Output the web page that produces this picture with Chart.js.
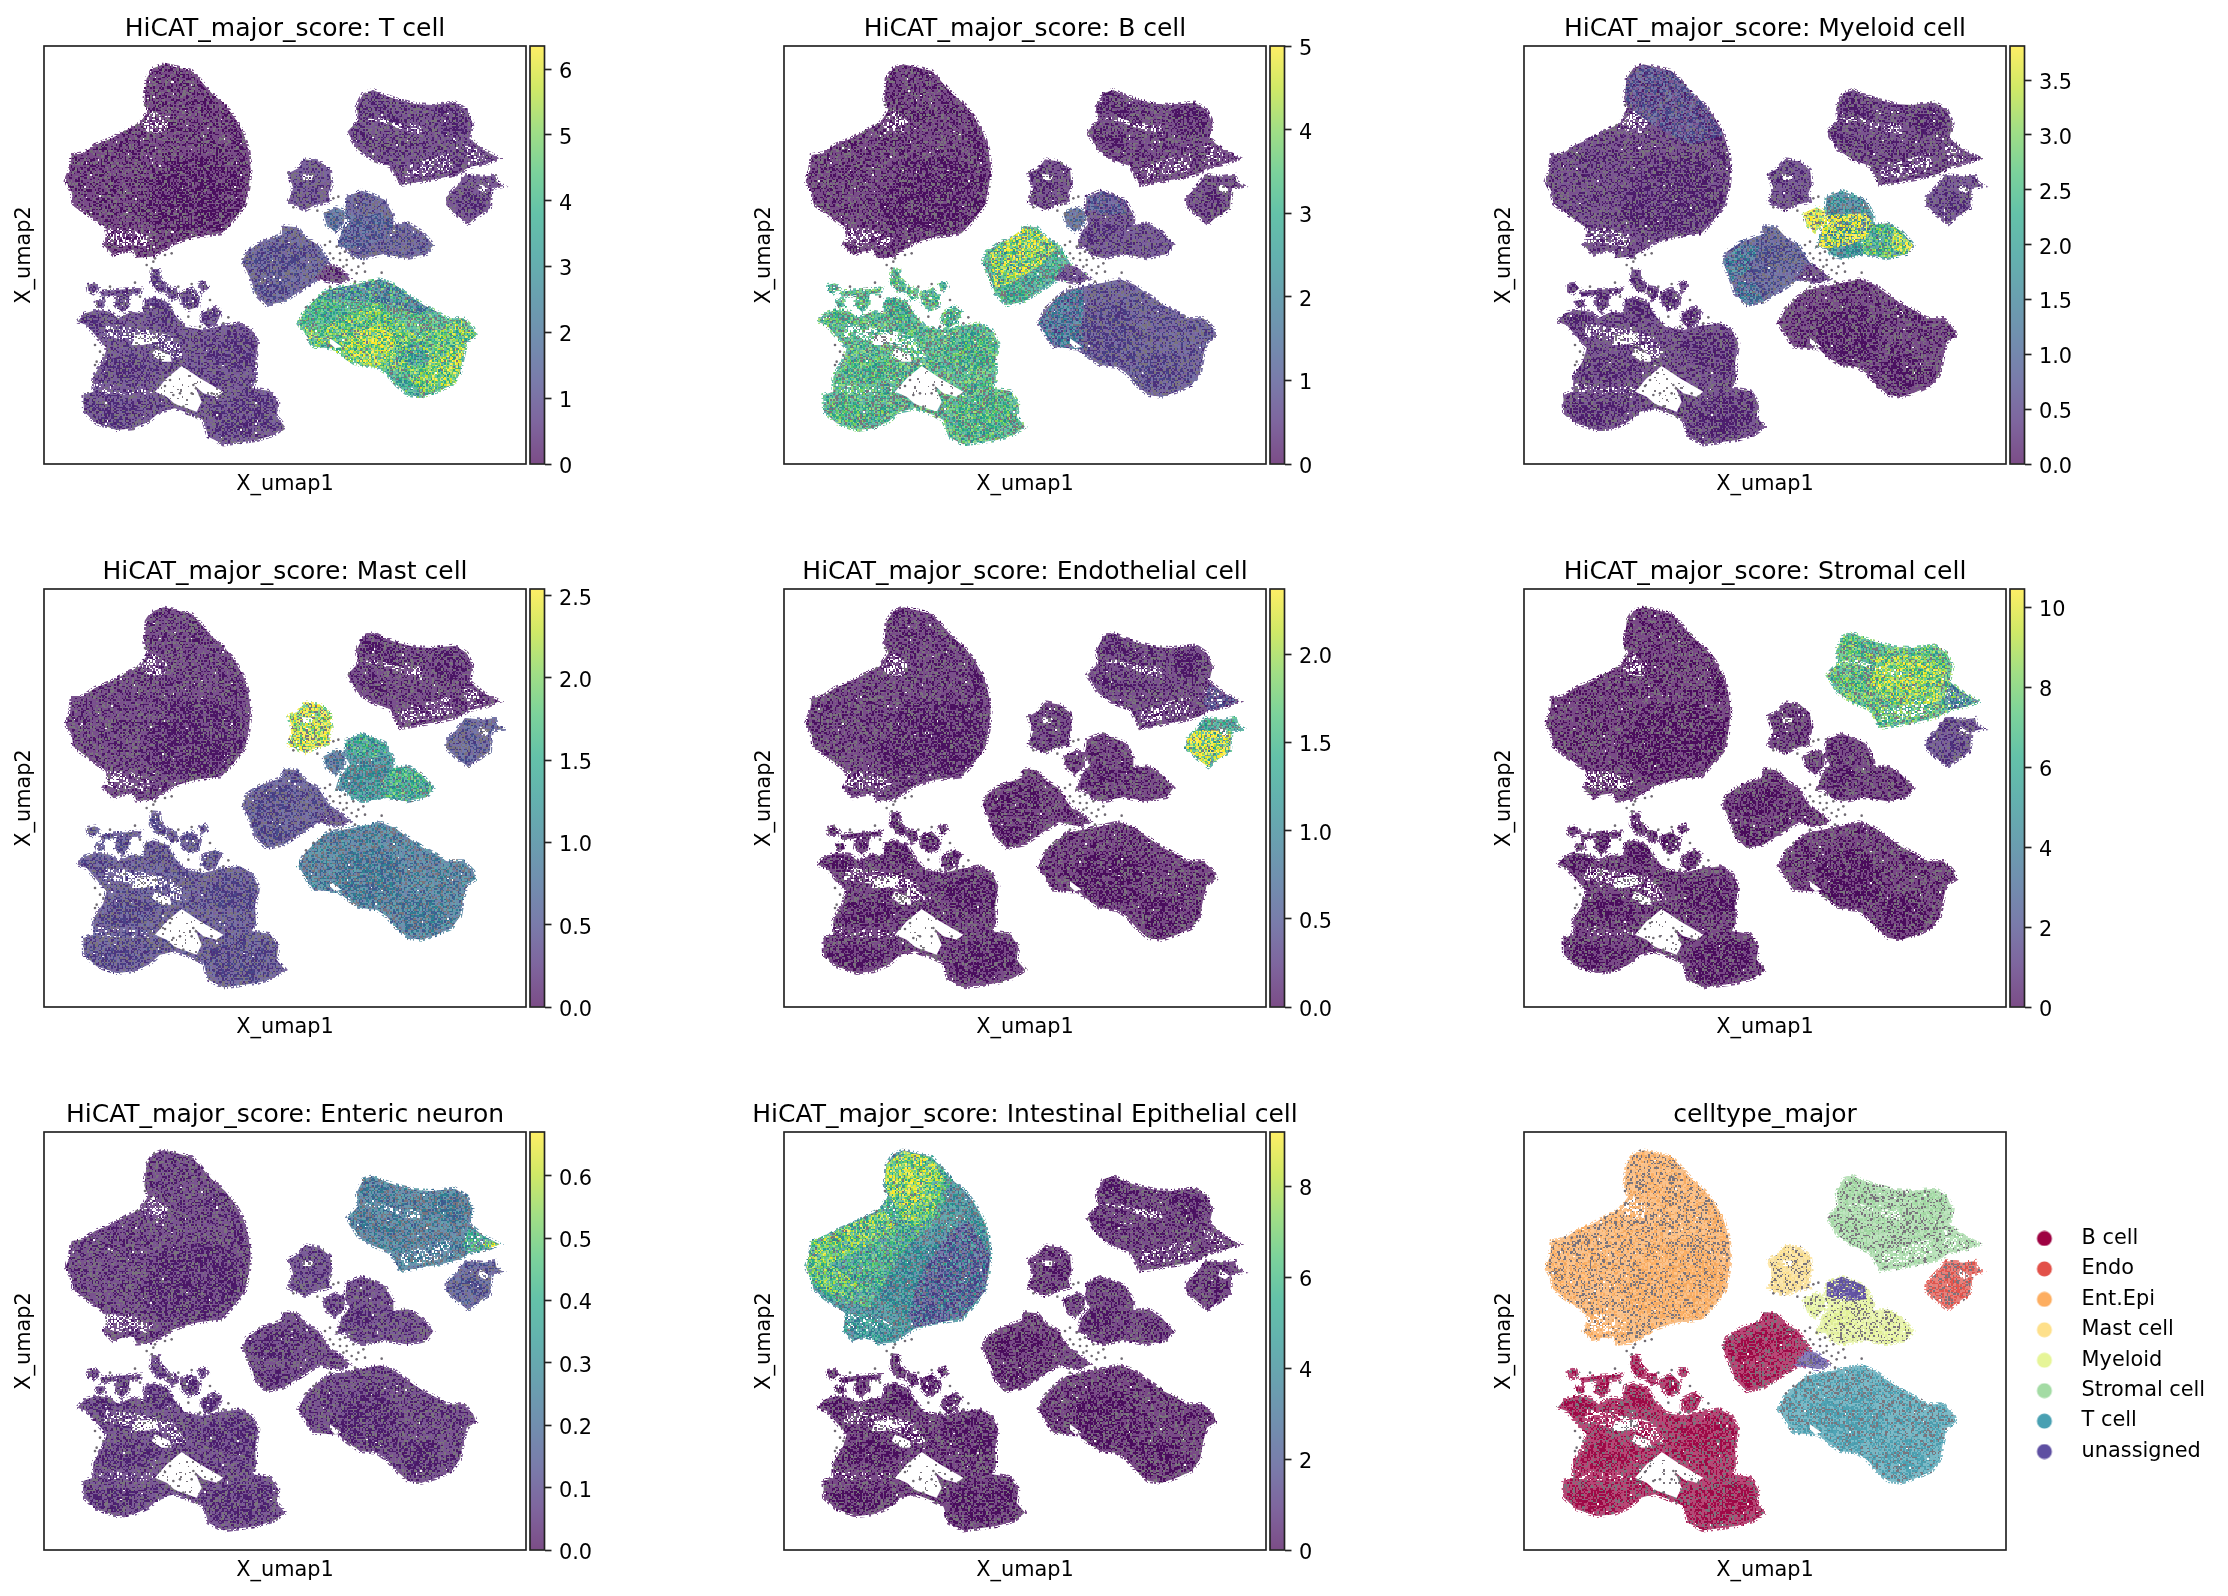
<!DOCTYPE html>
<html><head><meta charset="utf-8">
<script src="https://cdn.jsdelivr.net/npm/chart.js@4"></script>
<style>html,body{margin:0;background:#fff}#page{position:relative;width:2228px;height:1596px;overflow:hidden}canvas{position:absolute}</style>
</head><body><div id="page"></div>
<script>
/* layout of the figure */
const lefts=[44,784,1524],tops=[46,589,1132],PW=482,PH=418;
const XMIN=115,XMAX=1372,YMIN=138,YMAX=1390;
/* turns readings taken on a magnified crop of the first panel into embedding units */
const read=(X0,Y0,pts)=>pts.map(([a,b])=>[XMIN+(X0-44+a/3)*(XMAX-XMIN)/PW,YMIN+(Y0-46+b/3)*(YMAX-YMIN)/PH]);

/* ---------- cluster outlines ---------- */
const epi=read(55,55,[[325,28],[370,38],[410,48],[435,75],[470,115],[510,150],[540,190],[565,235],[580,285],[587,340],[582,390],[570,450],[540,490],[500,535],[420,545],[355,565],[335,580],[290,605],[245,608],[235,585],[200,590],[175,600],[145,570],[160,545],[150,515],[100,480],[55,445],[50,410],[32,378],[45,345],[50,300],[85,295],[120,270],[170,250],[215,225],[255,205],[280,165],[268,135],[275,70],[295,40]]);
const stromal=read(340,80,[[100,30],[130,45],[175,60],[225,72],[275,75],[345,68],[380,90],[398,130],[388,175],[430,210],[478,235],[440,250],[385,262],[360,280],[300,295],[240,305],[180,315],[165,285],[150,258],[100,240],[55,210],[22,155],[55,120],[50,80],[70,40]]);
const endo=read(340,80,[[375,285],[430,290],[465,285],[470,305],[490,318],[455,325],[452,355],[450,385],[405,415],[385,432],[350,405],[318,375],[320,350],[350,320],[365,300]]);
const mast=read(230,150,[[225,28],[270,35],[300,60],[305,105],[295,130],[300,155],[255,165],[225,180],[175,155],[190,115],[175,70],[205,55]]);
const myeloid=read(230,150,[[395,122],[430,135],[465,150],[490,195],[490,225],[535,220],[575,245],[610,285],[590,312],[530,325],[460,312],[400,325],[365,315],[345,290],[322,290],[335,245],[360,215],[345,190],[350,140]]);
const myeLobe=read(230,150,[[280,190],[320,172],[345,185],[342,220],[315,245],[290,225]]);
const bMid=read(230,150,[[160,228],[200,232],[230,265],[265,285],[290,325],[320,365],[345,375],[305,395],[270,385],[215,420],[160,455],[110,465],[75,430],[65,395],[38,335],[50,305],[95,275],[155,255]]);
const bridge=read(230,150,[[290,345],[320,350],[360,385],[330,400],[300,395],[260,385]]);
const tCell=read(280,270,[[300,28],[345,45],[385,75],[430,105],[470,125],[500,145],[550,145],[580,175],[588,198],[560,215],[548,265],[540,310],[515,345],[470,365],[425,380],[385,375],[350,345],[320,310],[290,290],[240,285],[190,250],[175,235],[150,235],[100,230],[75,190],[55,160],[75,120],[110,85],[140,60],[190,50],[250,38]]);
const bLow=read(60,280,[[52,125],[75,100],[110,90],[150,95],[175,115],[215,95],[250,100],[255,60],[280,52],[320,65],[345,105],[375,140],[430,150],[480,138],[540,130],[575,150],[595,190],[585,250],[588,300],[575,325],[630,333],[655,370],[650,410],[675,440],[640,465],[590,480],[550,485],[490,493],[445,470],[430,420],[400,405],[345,385],[300,395],[265,425],[220,445],[170,450],[110,430],[72,395],[70,345],[100,335],[100,290],[130,240],[140,205],[110,170],[80,135]]);
const isletA=read(60,280,[[275,-32],[298,-30],[300,-5],[320,15],[315,38],[290,32],[272,5]]);
const isletB=read(60,280,[[415,10],[435,5],[443,20],[425,35]]);
const isletC=read(60,280,[[170,40],[210,35],[205,75],[185,95],[165,75]]);
const isletD=read(60,280,[[82,15],[105,10],[118,25],[100,40],[85,32]]);
const isletE=read(60,280,[[360,40],[395,25],[420,50],[415,80],[385,90],[365,70]]);
const isletF=read(60,280,[[425,100],[465,80],[485,95],[470,130],[445,145],[425,125]]);
const isletG=read(60,280,[[120,35],[170,30],[245,25],[240,40],[170,45],[125,50]]);
const isletH=read(60,280,[[320,20],[350,25],[355,50],[335,60],[320,40]]);
const isletJ=read(60,280,[[105,62],[130,60],[135,78],[115,85]]);
/* white gaps and thinly populated zones */
const gapTriangle=read(60,280,[[365,258],[420,295],[490,335],[470,350],[430,340],[405,318],[425,365],[410,395],[345,372],[320,350],[285,335],[320,295]]);
const gapSmall=read(60,280,[[285,205],[330,225],[335,245],[305,245],[275,225]]);
const gapUpper=read(60,280,[[225,165],[290,160],[295,185],[250,195],[215,195]]);
const gapEndo=read(340,80,[[420,310],[450,330],[435,340],[415,330]]);
const gapMast=read(230,150,[[215,72],[250,75],[245,90],[220,90]]);
const gapT=read(280,270,[[150,205],[185,230],[165,235],[150,220]]);
const thinEpiNotch=read(55,55,[[260,205],[295,165],[340,200],[325,235],[275,230]]);
const thinEpiFoot=read(55,55,[[155,520],[220,520],[295,550],[275,575],[235,570],[190,575],[150,560]]);
const thinLowTop=read(60,280,[[140,130],[200,140],[270,150],[340,170],[380,230],[340,235],[300,200],[200,180],[130,170]]);
const thinLowBand=read(60,280,[[100,310],[200,320],[280,320],[300,340],[230,345],[110,340]]);
const thinStromalRidge=read(340,80,[[55,115],[120,125],[200,155],[250,165],[240,130],[170,130],[110,110]]);
const thinStromalFoot=read(340,80,[[180,265],[270,235],[330,220],[340,270],[250,290],[185,300]]);
const thinStromalTail=read(340,80,[[370,190],[420,210],[440,240],[385,255]]);
/* densely over-plotted cores */
const coreEpi=read(55,55,[[330,320],[480,300],[570,370],[560,470],[480,530],[330,530],[250,450]]);
const coreEpiStreak=read(55,55,[[250,430],[300,440],[345,500],[310,530],[265,480]]);
const coreEpiStreakB=read(55,55,[[310,355],[350,380],[340,425],[318,420]]);
const coreEpiEdge=read(55,55,[[520,190],[560,240],[575,340],[540,300]]);
const coreStrA=read(340,80,[[75,40],[110,35],[130,70],[190,130],[170,140],[110,100],[60,90]]);
const coreStrB=read(340,80,[[30,155],[90,165],[160,190],[150,210],[90,200],[35,175]]);
const coreStrC=read(340,80,[[270,90],[340,75],[385,120],[350,170],[290,160]]);
const coreEndo=read(340,80,[[370,340],[400,330],[440,380],[410,400]]);
const coreT1=read(280,270,[[170,140],[300,100],[370,180],[350,270],[250,280],[170,230]]);
const coreT2=read(280,270,[[360,260],[460,250],[500,320],[450,360],[380,350]]);
const coreLowA=read(60,280,[[420,190],[520,150],[585,180],[585,260],[520,270],[440,240]]);
const coreLowB=read(60,280,[[140,240],[220,220],[300,260],[250,300],[170,310],[120,285]]);
const coreLowC=read(60,280,[[90,370],[180,365],[270,385],[220,430],[140,440],[85,400]]);
const coreLowD=read(60,280,[[450,380],[540,345],[640,360],[640,420],[560,470],[470,470]]);
const coreLowE=read(60,280,[[255,65],[290,55],[330,75],[340,105],[310,130],[270,110]]);
const coreLowF=read(60,280,[[60,115],[130,95],[165,120],[130,155],[80,130]]);
const coreMidA=read(230,150,[[70,320],[160,280],[240,300],[170,370],[90,370]]);
const coreMidB=read(230,150,[[80,400],[150,400],[180,430],[110,460]]);
const coreMye=read(230,150,[[340,240],[400,210],[440,240],[400,280],[350,285]]);
/* score zones */
const myeTop=read(230,150,[[350,140],[395,122],[430,135],[465,150],[470,190],[400,195],[350,180]]);
const myeCentre=read(230,150,[[350,195],[470,190],[490,225],[470,265],[400,290],[360,295],[325,290],[335,245]]);
const myeRight=read(230,150,[[490,225],[535,220],[575,245],[610,285],[590,312],[530,325],[460,312],[450,270]]);
const myeLower=read(230,150,[[350,295],[450,270],[470,315],[400,325],[365,318]]);
const myeTip=read(230,150,[[550,235],[610,285],[590,312],[545,295]]);
const midLeft=read(230,150,[[38,335],[95,278],[150,290],[120,360],[65,395]]);
const midFoot=read(230,150,[[75,430],[110,465],[160,455],[140,400],[85,395]]);
const bMidHot=read(230,150,[[60,310],[160,235],[205,240],[260,290],[220,340],[140,390],[75,420]]);
const tWarmCentre=read(280,270,[[130,170],[290,100],[400,180],[400,280],[340,300],[220,285],[150,235]]);
const tWarmLower=read(280,270,[[380,190],[560,170],[560,220],[530,340],[430,370],[360,300]]);
const tHotCentre=read(280,270,[[210,195],[290,165],[340,195],[345,260],[300,285],[240,280],[190,250]]);
const tHotTip=read(280,270,[[55,160],[75,165],[115,195],[140,215],[100,230],[75,190]]);
const tHotLower=read(280,270,[[450,270],[520,240],[560,215],[545,265],[540,310],[515,345],[460,360],[420,330]]);
const tHotRight=read(280,270,[[490,160],[550,150],[588,198],[555,220],[510,210]]);
const tCool=read(280,270,[[370,230],[430,215],[450,270],[410,290],[360,270]]);
const tUpper=read(280,270,[[140,60],[250,38],[300,28],[345,45],[385,75],[430,105],[470,125],[400,130],[310,100],[200,90],[110,85]]);
const tLeft=read(280,270,[[75,120],[110,85],[200,90],[150,165],[90,160]]);
const tFoot=read(280,270,[[320,310],[385,375],[425,380],[400,330]]);
const tLeftLobe=read(280,270,[[55,160],[110,85],[160,60],[190,50],[190,240],[150,235],[100,230]]);
const strTail=read(340,80,[[390,180],[430,210],[478,235],[440,250],[385,262],[370,240]]);
const strTip=read(340,80,[[435,222],[478,235],[445,248],[425,240]]);
const strCentre=read(340,80,[[170,100],[300,95],[380,140],[350,240],[220,250],[150,190]]);
const endoLow=read(340,80,[[350,320],[452,325],[450,385],[405,415],[385,432],[350,405],[318,375],[320,350]]);
const epiRight=read(55,55,[[520,240],[585,340],[570,450],[500,530],[360,560],[340,520],[370,420],[420,330],[470,270]]);
const epiUpperLeft=read(55,55,[[325,30],[410,50],[470,115],[430,240],[340,310],[280,400],[230,500],[100,478],[35,378],[50,300],[215,225],[255,205],[280,165],[270,135],[275,70]]);
const epiBand=read(55,55,[[215,228],[265,210],[300,250],[240,310],[150,345],[60,400],[35,378],[50,300],[120,272]]);
const epiLeft=read(55,55,[[35,385],[90,360],[190,430],[140,470],[60,440]]);
const epiCrown=read(55,55,[[275,70],[325,30],[410,50],[450,120],[400,260],[330,250],[285,165],[270,130]]);
const epiTop=read(55,55,[[275,70],[325,30],[400,48],[430,90],[385,170],[350,210],[285,165],[270,130]]);
const epiFoot=read(55,55,[[150,520],[220,520],[300,560],[290,600],[245,605],[200,588],[175,598],[145,570]]);
const epiDome=read(55,55,[[275,70],[325,30],[410,50],[510,150],[565,240],[470,270],[370,220],[290,165],[270,130]]);
/* lone cells between the clusters */
const strayLow=read(60,280,[[105,195],[120,215],[130,225],[110,245],[105,255],[355,20],[395,12],[450,60],[505,112],[490,130],[300,315],[315,318],[340,345],[395,340],[420,345],[370,380],[345,375],[385,395],[410,410],[420,400],[270,330],[300,300],[330,285],[352,255],[510,340],[475,350],[400,315],[408,325],[150,20],[225,8],[240,50],[385,110],[420,140],[330,300],[360,340],[440,355],[455,340],[300,350],[320,365]]);
const strayEpi=read(55,55,[[300,610],[275,630],[350,595],[330,600],[295,620],[270,150],[245,210],[210,230],[110,290],[290,640],[130,300]]);
const strayCentre=read(230,150,[[285,285],[300,275],[320,290],[330,310],[345,305],[300,310],[310,325],[330,330],[350,330],[370,325],[400,340],[380,370],[405,365],[455,368],[325,140],[310,145],[262,182],[190,172],[350,345],[365,360],[385,350],[340,350],[228,472],[250,450],[375,395],[300,410],[280,432],[360,300]]);

/* ---------- categories, titles, ticks, scores ---------- */
const clusterNames=['epi','stromal','endo','mast','myeloid','myeLobe','bMid','bridge','tCell','bLow'];
const panelTitles=['HiCAT_major_score: T cell','HiCAT_major_score: B cell','HiCAT_major_score: Myeloid cell','HiCAT_major_score: Mast cell','HiCAT_major_score: Endothelial cell','HiCAT_major_score: Stromal cell','HiCAT_major_score: Enteric neuron','HiCAT_major_score: Intestinal Epithelial cell','celltype_major'];
const colorbarMax=[6.35,5.0,3.81,2.54,2.37,10.46,0.67,9.2];
const ticks0=[0,1,2,3,4,5,6];const ticks1=[0,1,2,3,4,5];const ticks2=[0,0.5,1,1.5,2,2.5,3,3.5];const ticks3=[0,0.5,1,1.5,2,2.5];
const ticks4=[0,0.5,1,1.5,2];const ticks5=[0,2,4,6,8,10];const ticks6=[0,0.1,0.2,0.3,0.4,0.5,0.6];const ticks7=[0,2,4,6,8];
const colorbarTicks=[ticks0,ticks1,ticks2,ticks3,ticks4,ticks5,ticks6,ticks7];
const tickDecimals=[0,0,1,1,1,0,1,0];
/* scores per cluster, in clusterNames order */
const scoresT=[0.12,0.42,0.5,0.7,1.15,1.7,1.15,0.3,4.3,0.65];
const scoresB=[0.1,0.18,0.28,0.3,0.5,1.3,3.1,0.5,0.8,3.4];
const scoresMye=[0.22,0.2,0.35,0.32,1.7,3.8,0.8,0.3,0.1,0.25];
const scoresMast=[0.1,0.1,0.5,2.5,1.15,0.85,0.45,0.35,0.95,0.42];
const scoresEndo=[0.06,0.1,1.4,0.08,0.05,0.05,0.03,0.03,0.03,0.04];
const scoresStr=[0.1,7.6,1.2,0.25,0.2,0.2,0.1,0.1,0.08,0.12];
const scoresNeu=[0.035,0.25,0.14,0.06,0.05,0.05,0.04,0.04,0.04,0.05];
const scoresEpi=[4.2,0.25,0.25,0.2,0.25,0.25,0.1,0.2,0.1,0.15];
const panelScores=[scoresT,scoresB,scoresMye,scoresMast,scoresEndo,scoresStr,scoresNeu,scoresEpi];
/* score zones drawn above the clusters, per panel */
const zonesT=[[tUpper,2.4],[tLeft,4.2],[tFoot,3.6],[tWarmCentre,5.1],[tWarmLower,5.0],[tCool,3.2],[tHotRight,5.2],[tHotLower,5.6],[tHotTip,5.6],[tHotCentre,6.0],[myeCentre,1.6]];
const zonesB=[[bMidHot,4.8],[tLeftLobe,1.9],[myeTop,1.1]];
const zonesMye=[[epiDome,0.75],[midLeft,1.5],[midFoot,1.4],[myeLower,1.9],[myeRight,2.8],[myeCentre,4.2],[myeTip,4.2]];
const zonesMast=[[myeTop,1.6],[myeRight,1.7],[myeLower,1.3]];
const zonesEndo=[[endoLow,2.7],[strTail,0.45]];
const zonesStr=[[strCentre,9.4],[strTail,3.6]];
const zonesNeu=[[strTail,0.42],[strTip,0.66]];
const zonesEpi=[[epiRight,1.8],[epiUpperLeft,6.2],[epiBand,7.6],[epiLeft,7.2],[epiCrown,7.6],[epiTop,8.5],[epiFoot,4.6]];
const panelZones=[zonesT,zonesB,zonesMye,zonesMast,zonesEndo,zonesStr,zonesNeu,zonesEpi];
/* cell-type panel */
const cellTypes=['B cell','Endo','Ent.Epi','Mast cell','Myeloid','Stromal cell','T cell','unassigned'];
const cellColors=['#9e0142','#e25149','#fdae61','#fee08b','#e6f598','#a3dba4','#49a0b2','#5e4fa2'];
const clusterCell=[2,5,1,3,4,4,0,7,6,0];
const viridisStops=[[68,1,84],[72,36,117],[65,68,135],[53,95,141],[42,120,142],[33,145,140],[34,168,132],[68,191,112],[122,209,81],[189,223,38],[253,231,37]];

const outlines={epi,stromal,endo,mast,myeloid,myeLobe,bMid,bridge,tCell,bLow};
const islets=[isletA,isletB,isletC,isletD,isletE,isletF,isletG,isletH,isletJ];
const coresOf={epi:[coreEpi,coreEpiStreak,coreEpiStreakB,coreEpiEdge],stromal:[coreStrA,coreStrB,coreStrC],endo:[coreEndo],myeloid:[coreMye],bMid:[coreMidA,coreMidB],tCell:[coreT1,coreT2],bLow:[coreLowA,coreLowB,coreLowC,coreLowD,coreLowE,coreLowF]};
const thinZones=[[thinEpiNotch,'epi',0.4],[thinEpiFoot,'epi',0.4],[thinLowTop,'bLow',0.4],[thinLowBand,'bLow',0.14],[thinStromalRidge,'stromal',0.4],[thinStromalFoot,'stromal',0.3],[thinStromalTail,'stromal',0.3]];
const gaps=[[gapTriangle,'bLow',0.96],[gapSmall,'bLow',0.75],[gapUpper,'bLow',0.7],[gapEndo,'endo',0.6],[gapMast,'mast',0.6],[gapT,'tCell',0.9]];
const strayCells=strayLow.concat(strayEpi,strayCentre);
const FONT='"DejaVu Sans"';

function viridis(t){t=Math.max(0,Math.min(1,t))*10;const i=Math.min(9,Math.floor(t)),f=t-i,a=viridisStops[i],b=viridisStops[i+1];return [0,1,2].map(k=>a[k]+(b[k]-a[k])*f);}
function grain(x,y,k){let h=(x*73856093)^(y*19349663)^(k*83492791);h=Math.imul(h^(h>>>13),1274126177);h=Math.imul(h^(h>>>16),2246822519);return ((h^(h>>>15))>>>0)/4294967296;}
const tileCache={};let tileSeed=10;
/* speckled fill standing in for the over-plotted single-cell dots */
function speckle(colorFn,dens,white,clear){
  const key=colorFn.key+'|'+dens+'|'+white+'|'+clear;if(tileCache[key])return tileCache[key];
  const seed=tileSeed+=4,S=150,c=document.createElement('canvas');c.width=c.height=S;const g=c.getContext('2d'),im=g.createImageData(S,S);
  const grey=clear>0?0.04:0.08+0.2*(1-dens);
  for(let y=0;y<S;y++)for(let x=0;x<S;x++){
    const cx=Math.floor(x/1.5),cy=Math.floor(y/1.5),r=grain(cx,cy,seed),r2=grain(cx,cy,seed+1),r3=grain(cx,cy,seed+2),r4=grain(cx,cy,seed+3);
    const o=(y*S+x)*4;let p;
    if(r4<clear){im.data[o+3]=0;continue;}
    if(r<white)p=[255,255,255];
    else if(r<white+grey)p=[122,116,124];
    else{const alpha=r3<dens?0.97:0.72;p=colorFn(r2).map(v=>v*alpha+255*(1-alpha));}
    im.data[o]=p[0];im.data[o+1]=p[1];im.data[o+2]=p[2];im.data[o+3]=255;}
  g.putImageData(im,0,0);return tileCache[key]=g.createPattern(c,'repeat');
}
function scoreFill(v,vmax,dens,white,clear){const fn=r=>viridis(v/vmax*(0.62+r*0.6));fn.key='s'+(v/vmax).toFixed(3);return speckle(fn,dens,white,clear);}
function catFill(i,dens,white,clear){const col=cellColors[i],rgb=[1,3,5].map(k=>parseInt(col.substr(k,2),16));const fn=r=>rgb.map(v=>v*(0.94+r*0.08));fn.key='c'+i;return speckle(fn,dens,white,clear);}
function layer(poly,fill,edge){const pts=poly.concat([poly[0]]).map(([x,y])=>({x,y}));return {label:'',data:pts,showLine:true,fill:'shape',backgroundColor:fill,tension:0,pointRadius:0,borderColor:edge||'rgba(0,0,0,0)',borderWidth:edge?4:0};}
function panelLayers(p){
  const out=[];const isCat=p===8;
  const fillFor=(ci,dens,white,clear)=>isCat?catFill(clusterCell[ci],dens,white,clear):scoreFill(panelScores[p][ci],colorbarMax[p],dens,white,clear);
  clusterNames.forEach((n,ci)=>{out.push(layer(outlines[n],fillFor(ci,0.35,0.004,0),fillFor(ci,0.1,0,0.6)));
    (coresOf[n]||[]).forEach(c=>out.push(layer(c,fillFor(ci,1,0,0.68))));});
  thinZones.forEach(([poly,n,w])=>out.push(layer(poly,fillFor(clusterNames.indexOf(n),0.3,w,0.25))));
  islets.forEach(s=>out.push(layer(s,fillFor(9,0.55,0.03,0),fillFor(9,0.1,0,0.6))));
  if(isCat){out.push(layer(myeTop,catFill(7,0.7,0,0.15)));}
  else panelZones[p].forEach(([poly,v])=>out.push(layer(poly,scoreFill(v,colorbarMax[p],0.55,0,0.35))));
  gaps.forEach(([g,n,w])=>out.push(layer(g,fillFor(clusterNames.indexOf(n),0.3,w,0))));
  out.push({label:'',data:strayCells.map(([x,y])=>({x,y})),showLine:false,pointRadius:1.3,pointBackgroundColor:'#6f6a72',pointBorderWidth:0});
  out.forEach((d,i)=>d.order=out.length-i);
  return out;
}
const frame={id:'frame',afterDraw(c){const a=c.chartArea,g=c.ctx;g.save();g.strokeStyle='#222';g.lineWidth=1.67;g.strokeRect(a.left,a.top,a.right-a.left,a.bottom-a.top);g.restore();}};
/* long titles may overhang the axes as they do in the reference */
const freeTitle={id:'freeTitle',beforeDraw(c){const t=c.titleBlock;if(!t||t.$free)return;t.$free=true;const f=t._drawArgs;t._drawArgs=function(o){const r=f.call(this,o);r.maxWidth=undefined;return r;};}};
function addCanvas(x,y,w,h){const c=document.createElement('canvas');c.width=w;c.height=h;c.style.left=x+'px';c.style.top=y+'px';c.style.width=w+'px';c.style.height=h+'px';document.getElementById('page').appendChild(c);return c;}
function legendDot(col){const c=document.createElement('canvas');c.width=22;c.height=16;const g=c.getContext('2d');g.fillStyle=col;g.beginPath();g.arc(12,8,7.5,0,Math.PI*2);g.fill();return c;}

for(let p=0;p<9;p++){
  const col=p%3,row=Math.floor(p/3),L=lefts[col],T=tops[row];
  const isCat=p===8,cx=L-44,cy=T-46,legendW=isCat?2228-L-PW:0,rightPad=isCat?0:44,W=44+PW+(isCat?legendW:rightPad),H=46+PH+50;
  const plugins=[frame,freeTitle];
  if(isCat)plugins.push({id:'fixLegend',beforeLayout(c){const l=c.legend;if(l.$fixed)return;l.$fixed=true;const f=l.fit;l.fit=function(){f.call(this);this.width=legendW;this.columnSizes[0].height-=8;};}});
  new Chart(addCanvas(cx,cy,W,H),{type:'scatter',data:{datasets:panelLayers(p)},plugins,options:{
    responsive:false,animation:false,devicePixelRatio:1,events:[],
    layout:{padding:{left:0,right:rightPad,top:0,bottom:0}},
    plugins:{tooltip:{enabled:false},
      title:{display:true,text:panelTitles[p],fullSize:false,color:'#000',font:{family:FONT,size:25,weight:'normal',lineHeight:1.2},padding:{top:14,bottom:2}},
      legend:isCat?{display:true,position:'right',align:'center',fullSize:false,labels:{usePointStyle:true,pointStyleWidth:55.6,padding:9.6,color:'#000',font:{family:FONT,size:20.83},
        generateLabels:()=>cellTypes.map((t,i)=>({text:t,pointStyle:legendDot(cellColors[i]),fontColor:'#000',hidden:false,lineWidth:0,strokeStyle:'rgba(0,0,0,0)',fillStyle:cellColors[i]}))}}:{display:false}},
    scales:{
      x:{type:'linear',min:XMIN,max:XMAX,grid:{display:false},border:{display:false},ticks:{display:false},afterFit:s=>{s.height=50;},
         title:{display:true,text:'X_umap1',color:'#000',font:{family:FONT,size:20.83},padding:{top:0,bottom:17}}},
      y:{type:'linear',min:YMIN,max:YMAX,reverse:true,grid:{display:false},border:{display:false},ticks:{display:false},afterFit:s=>{s.width=44;},
         title:{display:true,text:'X_umap2',color:'#000',font:{family:FONT,size:20.83},padding:{top:12.5,bottom:0}}}
    }}});
  if(!isCat){
    const ticks=colorbarTicks[p],dec=tickDecimals[p],vmax=colorbarMax[p];
    new Chart(addCanvas(L+PW+1,T-14,90,PH+28),{type:'bar',data:{labels:[''],datasets:[{data:[vmax],barPercentage:1,categoryPercentage:1,borderWidth:0,
      backgroundColor:ctx=>{const a=ctx.chart.chartArea;if(!a)return '#fff';const g=ctx.chart.ctx.createLinearGradient(0,a.bottom,0,a.top);for(let i=0;i<=10;i++){const q=viridis(i/10);g.addColorStop(i/10,`rgba(${q[0]},${q[1]},${q[2]},0.7)`);}return g;}}]},
      plugins:[frame],options:{responsive:false,animation:false,devicePixelRatio:1,events:[],
        layout:{padding:{left:3,right:0,top:14,bottom:14}},
        plugins:{legend:{display:false},tooltip:{enabled:false},title:{display:false}},
        scales:{x:{display:false},y:{position:'right',min:0,max:vmax,afterBuildTicks:s=>{s.ticks=ticks.map(v=>({value:v}));},afterFit:s=>{s.width=90-3-14.5;s.paddingTop=0;s.paddingBottom=0;},
          grid:{drawOnChartArea:false,tickLength:7,tickWidth:1.67,tickColor:'#222'},border:{display:false},
          ticks:{autoSkip:false,maxRotation:0,padding:7.5,color:'#000',font:{family:FONT,size:20.83,lineHeight:0.34},callback:v=>['',v.toFixed(dec)]}}}}});
  }
}
</script></body></html>
